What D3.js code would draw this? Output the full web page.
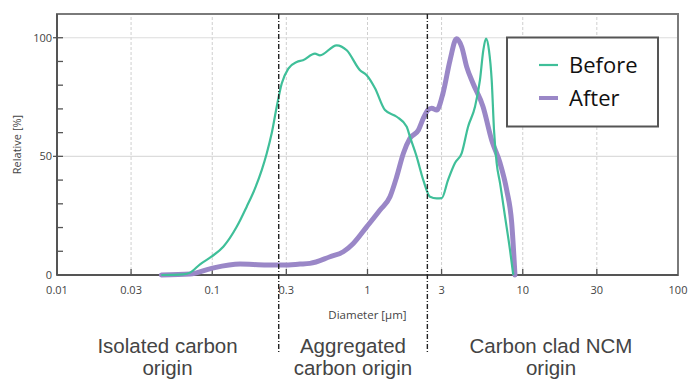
<!DOCTYPE html>
<html>
<head>
<meta charset="utf-8">
<script src="https://cdn.jsdelivr.net/npm/d3@7"></script>
<style>
  html, body { margin: 0; padding: 0; background: #fff; }
  svg { display: block; }
</style>
</head>
<body>
<svg id="chart"></svg>
<script>
// particle size distribution
const beforeDiam = [0.047, 0.065, 0.072, 0.0834, 0.0992, 0.1178, 0.1437, 0.1667, 0.1886, 0.2083, 0.2243, 0.2415, 0.2602, 0.2802, 0.309, 0.350, 0.384, 0.459, 0.494, 0.633, 0.735, 0.895, 0.988, 1.118, 1.296, 1.542, 1.789, 1.878, 2.075, 2.288, 2.527, 2.791, 3.006, 3.30, 3.66, 4.045, 4.44, 4.925, 5.30, 5.57, 5.80, 6.06, 6.31, 6.53, 6.79, 7.14, 7.69, 8.28, 8.69];
const beforeVal  = [0, 0.3, 1, 4.5, 7.8, 11.9, 20.3, 28.8, 36.5, 44.2, 51.2, 59.7, 70.9, 80.7, 87, 89.8, 90.5, 93.3, 92.6, 96.8, 94.7, 86.3, 84.2, 78.7, 69.5, 66.7, 62.5, 58.2, 49.8, 40, 33, 32.3, 32.4, 40, 47.2, 51.4, 62.4, 70.9, 82.1, 94.7, 99.6, 94.7, 82.1, 61.1, 47.2, 38.7, 24.6, 10.5, 0];

const afterDiam = [0.047, 0.072, 0.099, 0.151, 0.224, 0.286, 0.367, 0.426, 0.5737, 0.6984, 0.810, 0.988, 1.204, 1.396, 1.542, 1.701, 1.878, 2.125, 2.288, 2.45, 2.592, 2.791, 3.064, 3.40, 3.745, 4.045, 4.355, 4.78, 5.55, 6.31, 7.14, 7.88, 8.49, 8.91];
const afterVal  = [0, 0.4, 2.8, 4.6, 4.2, 4.2, 4.6, 4.9, 7.7, 9.8, 13.3, 20.3, 27.4, 33, 41.4, 51.2, 57.6, 61, 66, 69.5, 70.3, 69.5, 76.6, 90.5, 99.6, 96.1, 87.7, 80.8, 70.9, 56.8, 47.2, 35.8, 21.9, 0];

const xTicks = [0.01, 0.03, 0.1, 0.3, 1, 3, 10, 30, 100];
const xTickLabels = ["0.01", "0.03", "0.1", "0.3", "1", "3", "10", "30", "100"];
const yMajor = [0, 50, 100];
const yMinor = [10, 20, 30, 40, 60, 70, 80, 90];

const boundaries = [0.268, 2.43];
const regionNames = [["Isolated carbon", "origin"], ["Aggregated", "carbon origin"], ["Carbon clad NCM", "origin"]];
const regionCenters = [0.0515, 0.806, 15.2];

const seriesNames = ["Before", "After"];
const seriesColors = ["#3fbf99", "#9a87c7"];

const W = 691, H = 381;
const margin = { left: 57, right: 13, top: 14, bottom: 106 };

const svg = d3.select("#chart").attr("width", W).attr("height", H);

const x = d3.scaleLog().domain([0.01, 100]).range([margin.left, W - margin.right]);
const y = d3.scaleLinear().domain([0, 110]).range([H - margin.bottom, margin.top]);

const x0 = x.range()[0], x1 = x.range()[1], y0 = y.range()[0], y1 = y.range()[1];

// grid
svg.append("g").selectAll("line").data(xTicks.slice(1, -1)).join("line")
  .attr("x1", d => x(d)).attr("x2", d => x(d))
  .attr("y1", y0).attr("y2", y1)
  .attr("stroke", "#cfcfcf").attr("stroke-width", 1).attr("stroke-dasharray", "3,2");

svg.append("g").selectAll("line").data(yMajor.slice(1)).join("line")
  .attr("x1", x0).attr("x2", x1)
  .attr("y1", d => y(d)).attr("y2", d => y(d))
  .attr("stroke", "#dcdcdc").attr("stroke-width", 1.2);

// frame
svg.append("rect")
  .attr("x", x0).attr("y", y1).attr("width", x1 - x0).attr("height", y0 - y1)
  .attr("fill", "none").attr("stroke", "#7a7a7a").attr("stroke-width", 2);

svg.append("line").attr("x1", x0).attr("x2", x0).attr("y1", y1).attr("y2", y0)
  .attr("stroke", "#555").attr("stroke-width", 2);
svg.append("line").attr("x1", x0).attr("x2", x1).attr("y1", y0).attr("y2", y0)
  .attr("stroke", "#555").attr("stroke-width", 2);

// ticks
svg.append("g").selectAll("line").data(xTicks.slice(1, -1)).join("line")
  .attr("x1", d => x(d)).attr("x2", d => x(d))
  .attr("y1", y0).attr("y2", y0 - 6)
  .attr("stroke", "#555").attr("stroke-width", 1.3);

svg.append("g").selectAll("line").data(yMinor).join("line")
  .attr("x1", x0).attr("x2", x0 + 6)
  .attr("y1", d => y(d)).attr("y2", d => y(d))
  .attr("stroke", "#555").attr("stroke-width", 1.3);

svg.append("g").selectAll("line").data(yMajor.slice(1)).join("line")
  .attr("x1", x0 - 4).attr("x2", x0 + 6)
  .attr("y1", d => y(d)).attr("y2", d => y(d))
  .attr("stroke", "#555").attr("stroke-width", 1.3);

// tick labels
svg.append("g").selectAll("text").data(xTicks).join("text")
  .attr("x", d => x(d)).attr("y", y0 + 19)
  .attr("text-anchor", "middle")
  .style("font-family", "'Open Sans', sans-serif").style("font-size", "11px").style("fill", "#444")
  .text((d, i) => xTickLabels[i]);

svg.append("g").selectAll("text").data(yMajor).join("text")
  .attr("x", x0 - 5).attr("y", d => y(d) + 4)
  .attr("text-anchor", "end")
  .style("font-family", "'Open Sans', sans-serif").style("font-size", "11px").style("fill", "#444")
  .text(d => d);

svg.append("text")
  .attr("transform", `translate(21,${(y0 + y1) / 2}) rotate(-90)`)
  .attr("text-anchor", "middle")
  .style("font-family", "'Open Sans', sans-serif").style("font-size", "11px").style("fill", "#444")
  .text("Relative [%]");

svg.append("text")
  .attr("x", x(1)).attr("y", y0 + 44)
  .attr("text-anchor", "middle")
  .style("font-family", "'Open Sans', sans-serif").style("font-size", "11.5px").style("fill", "#444")
  .text("Diameter [µm]");

// curves
const line = d3.line().x(d => x(d[0])).y(d => y(d[1])).curve(d3.curveMonotoneX);

svg.append("path")
  .datum(d3.zip(afterDiam, afterVal))
  .attr("d", line)
  .attr("fill", "none").attr("stroke", seriesColors[1]).attr("stroke-width", 5)
  .attr("stroke-linejoin", "round").attr("stroke-linecap", "round");

svg.append("path")
  .datum(d3.zip(beforeDiam, beforeVal))
  .attr("d", line)
  .attr("fill", "none").attr("stroke", seriesColors[0]).attr("stroke-width", 2.2)
  .attr("stroke-linejoin", "round");

// region boundaries
svg.append("g").selectAll("line").data(boundaries).join("line")
  .attr("x1", d => x(d)).attr("x2", d => x(d))
  .attr("y1", y1).attr("y2", 353)
  .attr("stroke", "#222").attr("stroke-width", 1.4).attr("stroke-dasharray", "5,2,1,2");

// region labels
const regions = svg.append("g").selectAll("text").data(regionNames).join("text")
  .attr("text-anchor", "middle")
  .style("font-family", "'Liberation Sans', Arial, sans-serif").style("font-size", "20.5px").style("fill", "#444");
regions.each(function (d, i) {
  const t = d3.select(this);
  d.forEach((s, k) => {
    t.append("tspan").attr("x", x(regionCenters[i])).attr("y", 353 + k * 22).text(s);
  });
});

// legend
const lg = svg.append("g");
lg.append("rect").attr("x", 507).attr("y", 37.5).attr("width", 151).attr("height", 89)
  .attr("fill", "#fff").attr("stroke", "#555").attr("stroke-width", 2);
seriesNames.forEach((name, i) => {
  const ly = 65 + i * 33;
  lg.append("line").attr("x1", 539).attr("x2", 558).attr("y1", ly).attr("y2", ly)
    .attr("stroke", seriesColors[i]).attr("stroke-width", i === 0 ? 2.2 : 4);
  lg.append("text").attr("x", 569).attr("y", ly + 8)
    .style("font-family", "'Open Sans', sans-serif").style("font-size", "22px").style("fill", "#111")
    .text(name);
});
</script>
</body>
</html>
